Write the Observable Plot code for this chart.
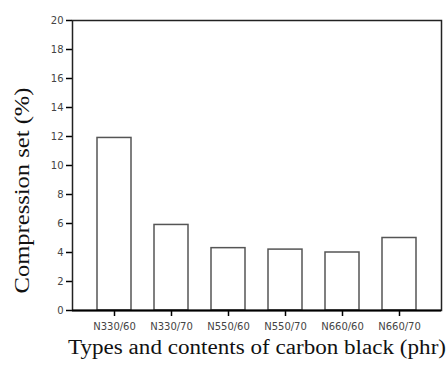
<!DOCTYPE html>
<html><head><meta charset="utf-8">
<script src="https://cdn.jsdelivr.net/npm/d3@7"></script>
<script src="https://cdn.jsdelivr.net/npm/@observablehq/plot@0.6"></script>
<style>body{margin:0;background:#fff}</style>
</head><body><div id="chart"></div>
<script>
const categories = ["N330/60","N330/70","N550/60","N550/70","N660/60","N660/70"];
const values = [11.9, 5.9, 4.3, 4.2, 4.0, 5.0];
const yTicks = [0,2,4,6,8,10,12,14,16,18,20];
const xTitle = "Types and contents of carbon black (phr)";
const yTitle = "Compression set (%)";

const data = categories.map((c,i)=>({cat:c, val:values[i]}));
const serif = "'Liberation Serif','Times New Roman',serif";

const chart = Plot.plot({
  width: 446, height: 370,
  marginLeft: 72, marginRight: 5, marginTop: 20, marginBottom: 60,
  style: {fontFamily: "'DejaVu Sans', sans-serif", fontSize: "10px", background: "#fff"},
  x: {domain: categories, padding: 0.4, label: null},
  y: {domain: [0,20], label: null},
  marks: [
    Plot.barY(data, {x:"cat", y:"val", fill:"white", stroke:"#555", strokeWidth:1.5}),
    Plot.axisY({ticks: yTicks, tickSize: 6, tickPadding: 3, tickFormat: d=>d, label: null, fill:"#444", stroke:"#000", strokeWidth:1.5, strokeOpacity:1}),
    Plot.axisX({tickSize: 6, tickPadding: 6, label: null, fill:"#444", stroke:"#000", strokeWidth:1.5, strokeOpacity:1}),
    Plot.frame({stroke:"#222", strokeWidth:1.5}),
    Plot.ruleY([0], {stroke:"#000", strokeWidth:2}),
    Plot.ruleX([0], {stroke:"#000", strokeWidth:2, y1:0, y2:20}),
    Plot.text([yTitle], {frameAnchor:"left", textAnchor:"middle", dx:-50, dy:25, rotate:-90, fontFamily:serif, fontSize:21, fill:"#111", className:"ytitle"}),
    Plot.text([xTitle], {frameAnchor:"bottom", dy:43, fontFamily:serif, fontSize:20, fill:"#111", className:"xtitle"})
  ]
});
document.getElementById("chart").appendChild(chart);
const xt = chart.querySelector(".xtitle text");
if (xt) { xt.setAttribute("textLength", 378); xt.setAttribute("lengthAdjust", "spacingAndGlyphs"); }
const yt = chart.querySelector(".ytitle text");
if (yt) { yt.setAttribute("textLength", 206); yt.setAttribute("lengthAdjust", "spacingAndGlyphs"); }
</script>
</body></html>
